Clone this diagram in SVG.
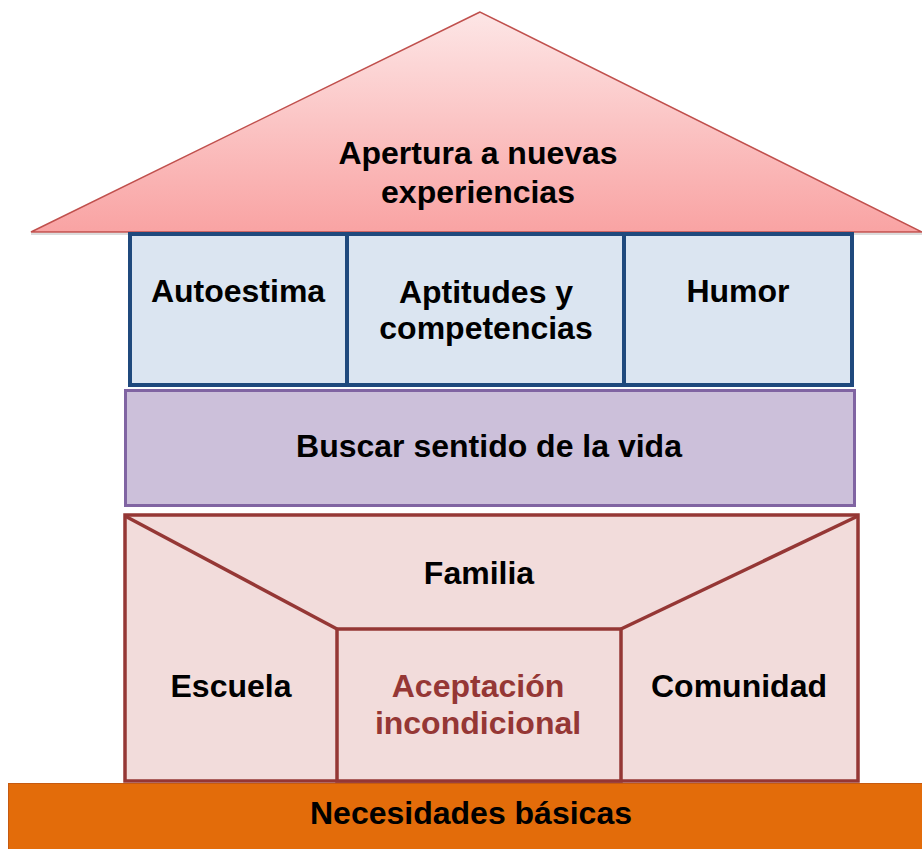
<svg xmlns="http://www.w3.org/2000/svg" width="922" height="849" viewBox="0 0 922 849">
<defs>
<linearGradient id="roofGrad" x1="0" y1="0" x2="0" y2="1">
<stop offset="0" stop-color="#fde6e6"/>
<stop offset="1" stop-color="#f9a3a3"/>
</linearGradient>
<style>
text{font-family:"Liberation Sans",Arial,sans-serif;font-weight:bold;font-size:32px;fill:#000;text-anchor:middle}
.blue{fill:#dbe5f1;stroke:#1f497d;stroke-width:4}
.red{fill:#f2dcdb;stroke:#953735;stroke-width:3.5}
.line{stroke:#953735;stroke-width:3.5;fill:none}
</style>
</defs>
<rect width="922" height="849" fill="#fff"/>
<g id="roof">
<polygon points="480,12 31,232 922,232" fill="url(#roofGrad)" stroke="#c0504d" stroke-width="1.5"/>
<line x1="31" y1="234" x2="922" y2="234" stroke="#bbb" stroke-width="2" opacity="0.5"/>
<text x="478" y="164">Apertura a nuevas</text>
<text x="478" y="203">experiencias</text>
</g>
<g id="autoestima">
<rect class="blue" x="130" y="234" width="217" height="151"/>
<text x="238" y="302">Autoestima</text>
</g>
<g id="aptitudes">
<rect class="blue" x="347" y="234" width="277" height="151"/>
<text x="486" y="303">Aptitudes y</text>
<text x="486" y="339">competencias</text>
</g>
<g id="humor">
<rect class="blue" x="624" y="234" width="228" height="151"/>
<text x="738" y="302">Humor</text>
</g>
<g id="sentido">
<rect x="125.5" y="390.5" width="729" height="115" fill="#ccc0da" stroke="#8064a2" stroke-width="3"/>
<text x="489" y="457">Buscar sentido de la vida</text>
</g>
<g id="familia">
<rect class="red" x="125" y="515" width="733" height="266"/>
<text x="479" y="584">Familia</text>
</g>
<g id="connectors">
<line class="line" x1="125" y1="516" x2="337" y2="629"/>
<line class="line" x1="858" y1="516" x2="621" y2="629"/>
</g>
<g id="escuela">
<text x="231" y="697">Escuela</text>
</g>
<g id="aceptacion">
<rect class="red" x="337" y="629" width="284" height="152"/>
<text x="478" y="697" style="fill:#953735">Aceptación</text>
<text x="478" y="734" style="fill:#953735">incondicional</text>
</g>
<g id="comunidad">
<text x="739" y="697">Comunidad</text>
</g>
<g id="necesidades">
<rect x="8.5" y="783.5" width="920" height="70" fill="#e36c0a" stroke="#c55a11" stroke-width="1"/>
<text x="471" y="824">Necesidades básicas</text>
</g>
</svg>
